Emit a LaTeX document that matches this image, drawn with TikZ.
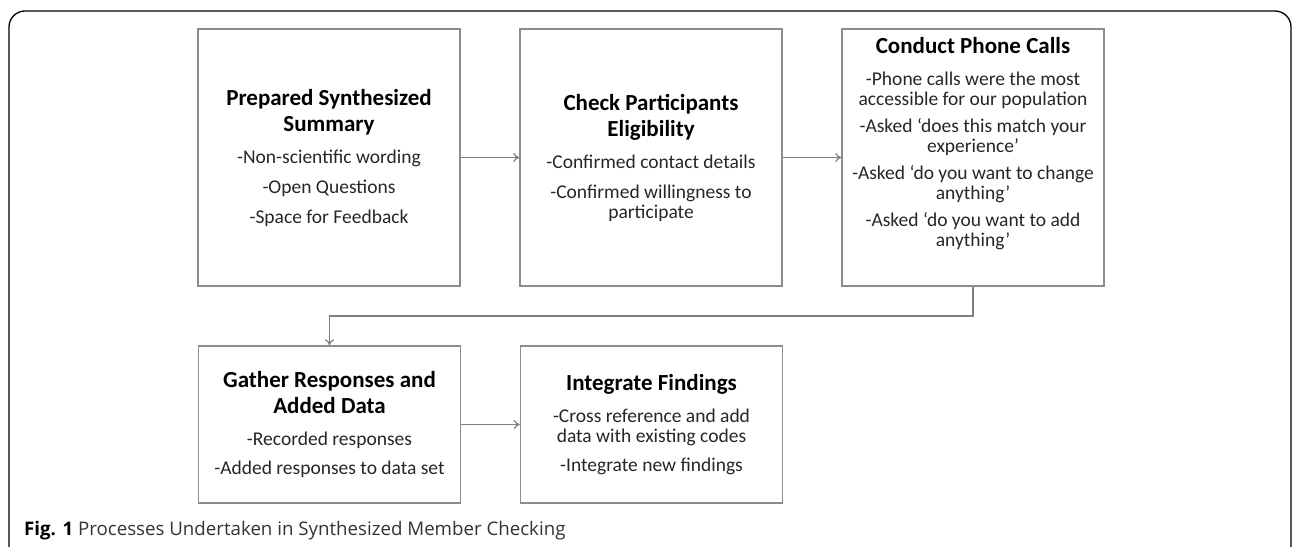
\documentclass[tikz,border=0pt]{standalone}
\usepackage{fontspec}
\setmainfont{Carlito}
\newfontfamily\capfont{Open Sans}
\usetikzlibrary{positioning}
\usetikzlibrary{calc}
\usetikzlibrary{arrows.meta}
\newcommand{\bodyfont}{\fontsize{19.5}{20}\selectfont\lineskiplimit=-50pt\relax}
\tikzset{boxtext/.style={align=center,inner sep=0pt,font=\bodyfont,text=black!85},
box/.style={boxtext,draw=black!45,line width=1.4pt,minimum width=262pt},
link/.style={draw=black!50,line width=1.2pt,-{To[length=6pt,width=9pt]}}}
\newcommand{\ttl}[1]{{\fontsize{23}{26}\selectfont\bfseries\color{black}#1}}

\begin{document}
\begin{tikzpicture}[x=1pt,y=-1pt]
\useasboundingbox (0,0) rectangle (1292,546);
\draw [line width=1.3pt,rounded corners=16pt] (9,570) -- (9,11) -- (1291,11) -- (1291,570);

\node (prep) at (329,157.5) [box,minimum height=257pt] {\ttl{Prepared Synthesized}\\[6pt]\ttl{Summary}\\[12pt]-Non-scientific wording\\[10pt]-Open Questions\\[10pt]-Space for Feedback};
\node (check) at (651,157.5) [box,minimum height=257pt] {\ttl{Check Participants}\\[6pt]\ttl{Eligibility}\\[12pt]-Confirmed contact details\\[10pt]-Confirmed willingness to\\participate};
\node (calls) at (973,157.5) [box,minimum height=257pt] {};
\node (callstxt) [below=9pt of calls.north,boxtext] {\ttl{Conduct Phone Calls}\\[12pt]-Phone calls were the most\\accessible for our population\\[7pt]-Asked ‘does this match your\\experience’\\[7pt]-Asked ‘do you want to change\\anything’\\[7pt]-Asked ‘do you want to add\\anything’};
\node (gather) at (329.5,424.5) [box,minimum height=157pt] {\ttl{Gather Responses and}\\[6pt]\ttl{Added Data}\\[12pt]-Recorded responses\\[9pt]-Added responses to data set};
\node (integ) at (651.5,424.5) [box,minimum height=157pt] {\ttl{Integrate Findings}\\[12pt]-Cross reference and add\\data with existing codes\\[9pt]-Integrate new findings};

\coordinate (turn) at (973,316);
\draw [link] (prep) -- (check);
\draw [link] (check) -- (calls);
\draw [link] (calls.south) -- (turn) -| (gather.north);
\draw [link] (gather) -- (integ);

\node (caption) at (24,535) [anchor=base west,inner sep=0pt,font=\capfont\fontsize{18.7}{22}\selectfont,text=black!80] {{\bfseries\color{black}Fig. 1} Processes Undertaken in Synthesized Member Checking};
\end{tikzpicture}
\end{document}
